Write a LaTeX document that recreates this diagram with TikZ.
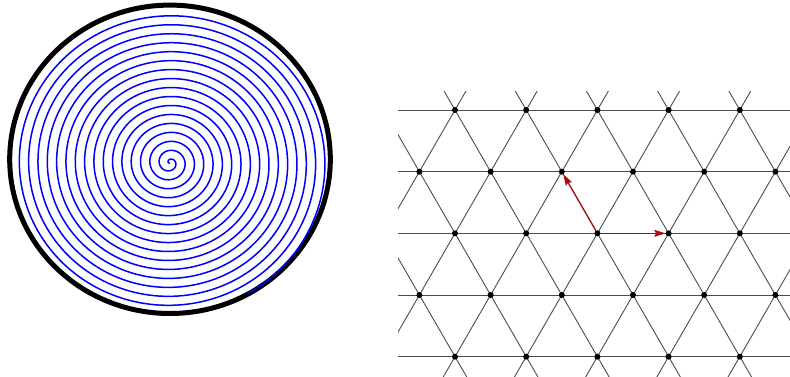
\documentclass[tikz,border=0pt]{standalone}
\usetikzlibrary{arrows.meta}
\definecolor{vecred}{RGB}{175,10,10}
\begin{document}
\begin{tikzpicture}[x=1pt,y=1pt,
  latline/.style={black!70,line width=0.9pt},
  latdot/.style={circle,fill=black,inner sep=0pt,minimum size=6pt},
  vec/.style={draw=vecred,line width=1.2pt,-{Stealth[length=11pt,width=7pt,inset=1.5pt]}},
  rim/.style={line width=5pt,black},
  spiralline/.style={blue,line width=1.5pt}]
\useasboundingbox (0,0) rectangle (790,376);
% left: rim and spiral
\draw[rim] (170,216.7) ellipse [x radius=160.3,y radius=154.2];
\begin{scope}[shift={(169.8,213.2)},yscale=0.962]
\draw[spiralline] plot[domain=0:6048,samples=3000] ({228-\x}:{0.025917*\x});
\end{scope}
% right: triangular lattice
\begin{scope}
\clip (398,0) rectangle (790,285);
\foreach \yy in {266,204.33,142.67,81,19.33}
  \draw[latline] (398,\yy) -- (790,\yy);
\foreach \k in {-3,...,7} {
  \draw[latline] ({455+71.2*\k-100},{142.67-173.2}) -- ++(60:400);
  \draw[latline] ({455+71.2*\k+100},{142.67-173.2}) -- ++(120:400);
}
\foreach \j/\yy in {0/266,2/142.67,4/19.33}
  \foreach \i in {0,...,4}
    \node[latdot] (d\j\i) at ({455+71.2*\i},\yy) {};
\foreach \j/\yy in {1/204.33,3/81}
  \foreach \i in {0,...,5}
    \node[latdot] (d\j\i) at ({419.4+71.2*\i},\yy) {};
\end{scope}
\draw[vec] (d22) -- (d23);
\draw[vec] (d22) -- (d12);
\end{tikzpicture}
\end{document}
